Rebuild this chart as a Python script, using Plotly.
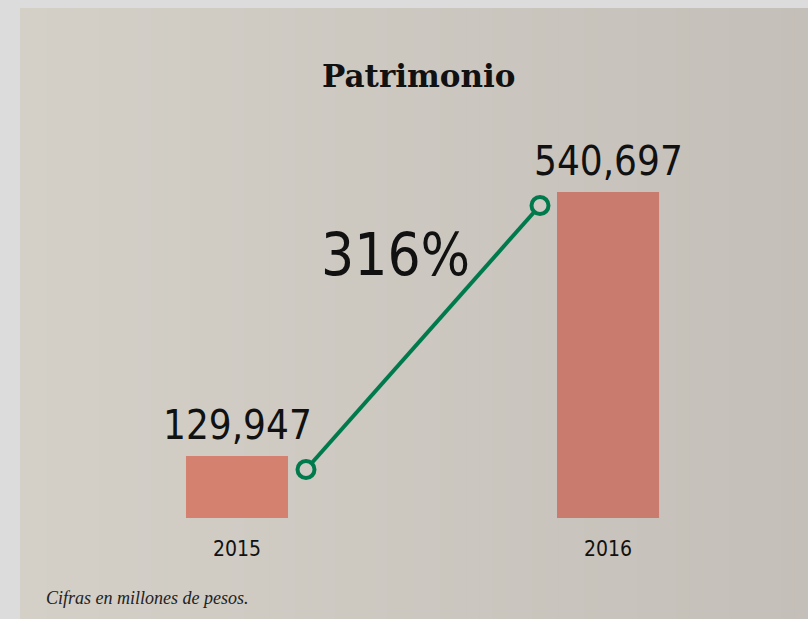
import plotly.graph_objects as go

years = ["2015", "2016"]
patrimonio = [129947, 540697]
bar_colors = ["#d4826f", "#c97b6d"]

title = "Patrimonio"
note = "Cifras en millones de pesos."
pct = round((patrimonio[1] / patrimonio[0] - 1) * 100)

narrow = "DejaVu Sans Condensed, Liberation Sans Narrow, sans-serif"

fig = go.Figure()

fig.add_trace(go.Bar(x=years, y=patrimonio, marker=dict(color=bar_colors, line=dict(width=0)),
                     width=0.275, hoverinfo="skip", showlegend=False))
fig.add_trace(go.Scatter(x=years, y=patrimonio, xaxis="x2", yaxis="y2", mode="lines+markers",
                         line=dict(color="#007a4c", width=4),
                         marker=dict(size=17, color="#cfcbc4", line=dict(color="#007a4c", width=4)),
                         hoverinfo="skip", showlegend=False))

# value labels above the bars
for i, v in enumerate(patrimonio):
    fig.add_annotation(x=i, y=v, xref="x", yref="y", text=f"{v:,}", showarrow=False,
                       yanchor="bottom", yshift=6,
                       font=dict(family=narrow, size=40, color="#111111"))

fig.add_annotation(x=0.49, y=0.588, xref="paper", yref="paper", text=f"{pct}%", showarrow=False,
                   font=dict(family=narrow, size=58, color="#111111"))
fig.add_annotation(x=0.518, y=0.910, xref="paper", yref="paper", text=f"<b>{title}</b>", showarrow=False,
                   font=dict(family="DejaVu Serif, Georgia, serif", size=31, color="#111111"))
fig.add_annotation(x=0.0545, y=0.014, xref="paper", yref="paper", text=f"<i>{note}</i>", showarrow=False,
                   xanchor="left", font=dict(family="Liberation Serif, serif", size=18, color="#222222"))

# background panel with a soft left-to-right gradient
shapes = []
n = 60
x0, x1 = 20 / 808, 1.0
c0, c1 = (212, 208, 200), (196, 191, 184)
for i in range(n):
    t = i / (n - 1)
    col = tuple(round(a + (b - a) * t) for a, b in zip(c0, c1))
    shapes.append(dict(type="rect", xref="paper", yref="paper", layer="below",
                       x0=x0 + (x1 - x0) * i / n, x1=x0 + (x1 - x0) * (i + 1) / n + 0.001,
                       y0=0, y1=1 - 8 / 619, line=dict(width=0),
                       fillcolor="rgb(%d,%d,%d)" % col))

fig.update_layout(
    width=808, height=619,
    margin=dict(l=0, r=0, t=0, b=0),
    paper_bgcolor="#dcdcdc", plot_bgcolor="rgba(0,0,0,0)",
    shapes=shapes,
    xaxis=dict(type="category", range=[-0.6388, 1.539], showgrid=False, zeroline=False, showline=False,
               ticks="", ticklabelstandoff=16, tickfont=dict(family=narrow, size=21, color="#111111")),
    xaxis2=dict(type="category", overlaying="x", range=[-1.3077, 2.1453], visible=False),
    yaxis=dict(domain=[101 / 619, 1], range=[33483, 839424], visible=False),
    yaxis2=dict(overlaying="y", range=[54487, 860428], visible=False),
)

fig.write_html("out.html", config={"displayModeBar": False},
               post_script="document.body.style.margin='0';")
